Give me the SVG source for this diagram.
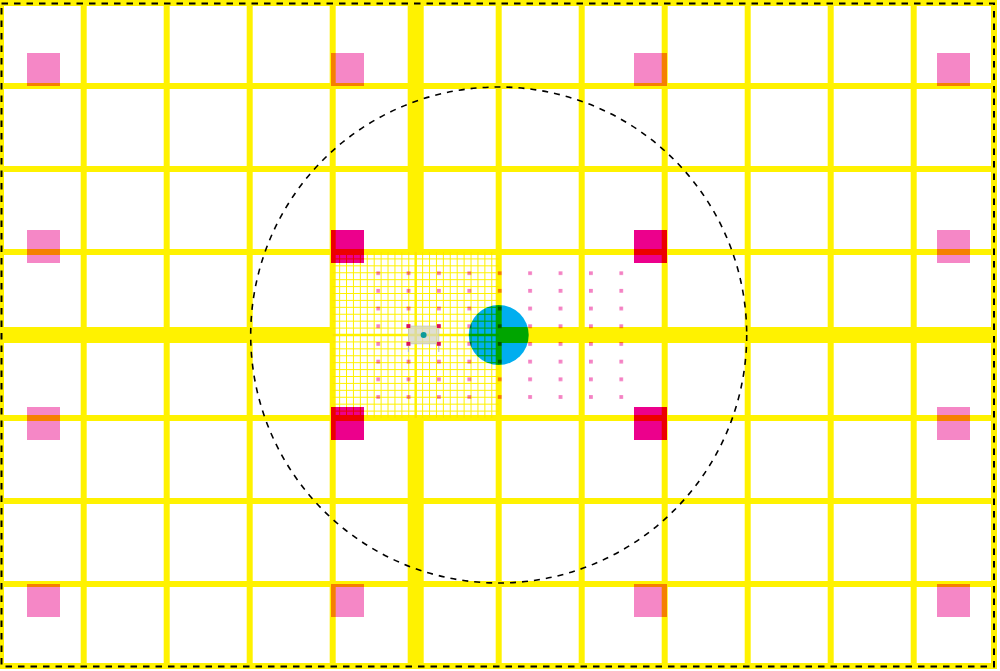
<svg xmlns="http://www.w3.org/2000/svg" width="1000" height="671" viewBox="0 0 1000 671">
<style>
.m{mix-blend-mode:multiply}
.pk{fill:#f587c6}
.mg{fill:#ec008c}
.y{stroke:#fff200;fill:none}
.thin{stroke-width:6}
.thick{stroke-width:16}
.fine{stroke-width:1}
.dash{fill:none;stroke:#000;stroke-width:2;stroke-dasharray:6.5 6}
</style>
<defs>
<pattern id="dots" x="376.2" y="271.2" width="30.4" height="17.7" patternUnits="userSpaceOnUse">
<rect x="0" y="0" width="3.8" height="3.8" fill="#f481c3"/>
</pattern>
</defs>
<rect width="1000" height="671" fill="#fff"/>
<g id="squares" class="m">
<rect class="pk" x="27" y="53" width="33" height="33"/>
<rect class="pk" x="331" y="53" width="33" height="33"/>
<rect class="pk" x="634" y="53" width="33" height="33"/>
<rect class="pk" x="937" y="53" width="33" height="33"/>
<rect class="pk" x="27" y="230" width="33" height="33"/>
<rect class="mg" x="331" y="230" width="33" height="33"/>
<rect class="mg" x="634" y="230" width="33" height="33"/>
<rect class="pk" x="937" y="230" width="33" height="33"/>
<rect class="pk" x="27" y="407" width="33" height="33"/>
<rect class="mg" x="331" y="407" width="33" height="33"/>
<rect class="mg" x="634" y="407" width="33" height="33"/>
<rect class="pk" x="937" y="407" width="33" height="33"/>
<rect class="pk" x="27" y="584" width="33" height="33"/>
<rect class="pk" x="331" y="584" width="33" height="33"/>
<rect class="pk" x="634" y="584" width="33" height="33"/>
<rect class="pk" x="937" y="584" width="33" height="33"/>
</g>
<g id="target">
<circle cx="498.7" cy="335" r="30" fill="#00aeef"/>
</g>
<g id="dot-grid" class="m">
<rect x="376.2" y="271.2" width="247.4" height="128" fill="url(#dots)"/>
</g>
<g id="fine-grid" class="m">
<path class="y fine" d="M339.62 252V418M346.53 252V418M353.45 252V418M360.37 252V418M367.28 252V418M374.2 252V418M381.12 252V418M388.03 252V418M394.95 252V418M401.87 252V418M408.78 252V418M422.62 252V418M429.53 252V418M436.45 252V418M443.37 252V418M450.28 252V418M457.2 252V418M464.12 252V418M471.03 252V418M477.95 252V418M484.87 252V418M491.78 252V418"/>
<path class="y fine" d="M332.7 258.92H498.7M332.7 265.83H498.7M332.7 272.75H498.7M332.7 279.67H498.7M332.7 286.58H498.7M332.7 293.5H498.7M332.7 300.42H498.7M332.7 307.33H498.7M332.7 314.25H498.7M332.7 321.17H498.7M332.7 328.08H498.7M332.7 341.92H498.7M332.7 348.83H498.7M332.7 355.75H498.7M332.7 362.67H498.7M332.7 369.58H498.7M332.7 376.5H498.7M332.7 383.42H498.7M332.7 390.33H498.7M332.7 397.25H498.7M332.7 404.17H498.7M332.7 411.08H498.7"/>
<path class="y" stroke-width="2.5" d="M415.7 252V418M332.7 335H498.7"/>
</g>
<g id="grid" class="m">
<path class="y thin" d="M83.7 0V669M166.7 0V669M249.7 0V669M332.7 0V669M498.7 0V669M581.7 0V669M664.7 0V669M747.7 0V669M830.7 0V669M913.7 0V669"/>
<path class="y thin" d="M0 86H996M0 169H996M0 252H996M0 418H996M0 501H996M0 584H996"/>
<path class="y thick" d="M415.7 0V252M415.7 418V669M0 335H332.7M498.7 335H996"/>
<rect class="y thin" x="1" y="3" width="993" height="663"/>
</g>
<g id="device">
<rect x="408.4" y="326.1" width="30.4" height="17.7" fill="#d4d4c4" fill-opacity="0.75" stroke="#c4c4b4" stroke-width="0.8"/>
<path d="M408.4 344V352M438.8 344V352" stroke="#b8b8b8" stroke-width="1"/>
<circle cx="423.6" cy="335" r="3" fill="#0a9a9a"/>
<g fill="#dc1258">
<rect x="406.5" y="324.2" width="3.8" height="3.8"/>
<rect x="436.9" y="324.2" width="3.8" height="3.8"/>
<rect x="406.5" y="341.9" width="3.8" height="3.8"/>
<rect x="436.9" y="341.9" width="3.8" height="3.8"/>
</g>
</g>
<g id="connectors">
<rect class="dash" x="1.5" y="3.5" width="992.5" height="663"/>
<circle cx="498.7" cy="335" r="248" fill="none" stroke="#000" stroke-width="1.6" stroke-dasharray="6 6"/>
</g>
</svg>
